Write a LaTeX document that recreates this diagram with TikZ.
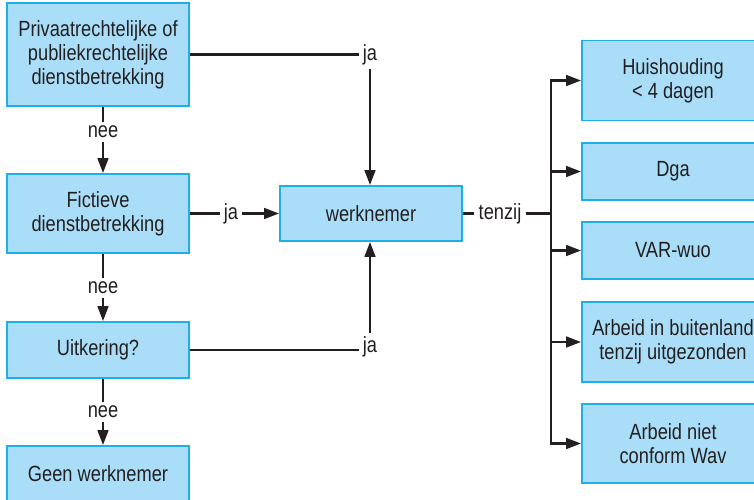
\documentclass[tikz,border=0pt]{standalone}
\usepackage{fontspec}
\setmainfont{Liberation Sans}[FakeStretch=0.83]
\usetikzlibrary{arrows.meta}
\definecolor{boxfill}{RGB}{170,222,248}
\definecolor{boxline}{RGB}{30,175,230}
\definecolor{ink}{RGB}{35,31,32}

\begin{document}
\begin{tikzpicture}[x=1pt,y=-1pt,
		box/.style={draw=boxline, fill=boxfill, line width=1.6pt, minimum width=182pt, minimum height=56pt, align=center, text=ink, font=\fontsize{22}{24}\selectfont},
		lbl/.style={inner sep=4pt, text=ink, font=\fontsize{22}{24}\selectfont},
		conn/.style={draw=ink, line width=2.8pt},
		>={Triangle[length=15pt,width=10.5pt]}]
			\useasboundingbox (0,0) rectangle (754,499);
			% left column
			\node[box, minimum height=103pt] (priv) at (98,54.5) {Privaatrechtelijke of\\publiekrechtelijke\\dienstbetrekking};
			\node[box, minimum height=79pt] (fict) at (98,213.5) {Fictieve\\dienstbetrekking};
			\node[box] (uitk) at (98,350) {Uitkering?};
			\node[box, minimum height=55pt] (geen) at (98,473.5) {Geen werknemer};
			\node[box, minimum height=55pt] (werk) at (371,213.5) {werknemer};
			% exceptions
			\node[box, minimum height=80pt] (huis) at (673,80.5) {Huishouding\\< 4 dagen};
			\node[box, minimum height=57pt] (dga) at (673,171.5) {Dga};
			\node[box, minimum height=57pt] (var) at (673,250.5) {VAR-wuo};
			\node[box, minimum height=80pt] (buit) at (673,342) {Arbeid in buitenland\\tenzij uitgezonden};
			\node[box, minimum height=79pt] (niet) at (673,443.5) {Arbeid niet\\conform Wav};
			% labels
			\node[lbl] (neeA) at (103,132) {nee};
			\node[lbl] (neeB) at (103,288) {nee};
			\node[lbl] (neeC) at (103,412) {nee};
			\node[lbl] (jaTop) at (370,55) {ja};
			\node[lbl] (jaMid) at (231,213.5) {ja};
			\node[lbl] (jaBot) at (370,347) {ja};
			\node[lbl] (tenzij) at (500,213.5) {tenzij};
			\coordinate (bus) at (551,213.5);

			\draw[conn] (priv.south -| neeA) -- (neeA.north);
			\draw[conn,->] (neeA.south) -- (neeA.south |- fict.north);
			\draw[conn] (fict.south -| neeB) -- (neeB.north);
			\draw[conn,->] (neeB.south) -- (neeB.south |- uitk.north);
			\draw[conn] (uitk.south -| neeC) -- (neeC.north);
			\draw[conn,->] (neeC.south) -- (neeC.south |- geen.north);

			\draw[conn] (priv.east) -- (priv.east -| jaTop.west);
			\draw[conn,->] (jaTop.south) -- (jaTop.south |- werk.north);
			\draw[conn] (fict.east) -- (jaMid.west);
			\draw[conn,->] (jaMid.east) -- (werk.west);
			\draw[conn] (uitk.east) -- (uitk.east -| jaBot.west);
			\draw[conn,->] (jaBot.north) -- (jaBot.north |- werk.south);

			\draw[conn] (werk.east) -- (tenzij.west);
			\foreach \n in {huis,dga,var,buit,niet}
				\draw[conn,->] (tenzij.east) -- (bus) |- (\n.west);
		\end{tikzpicture}
\end{document}
